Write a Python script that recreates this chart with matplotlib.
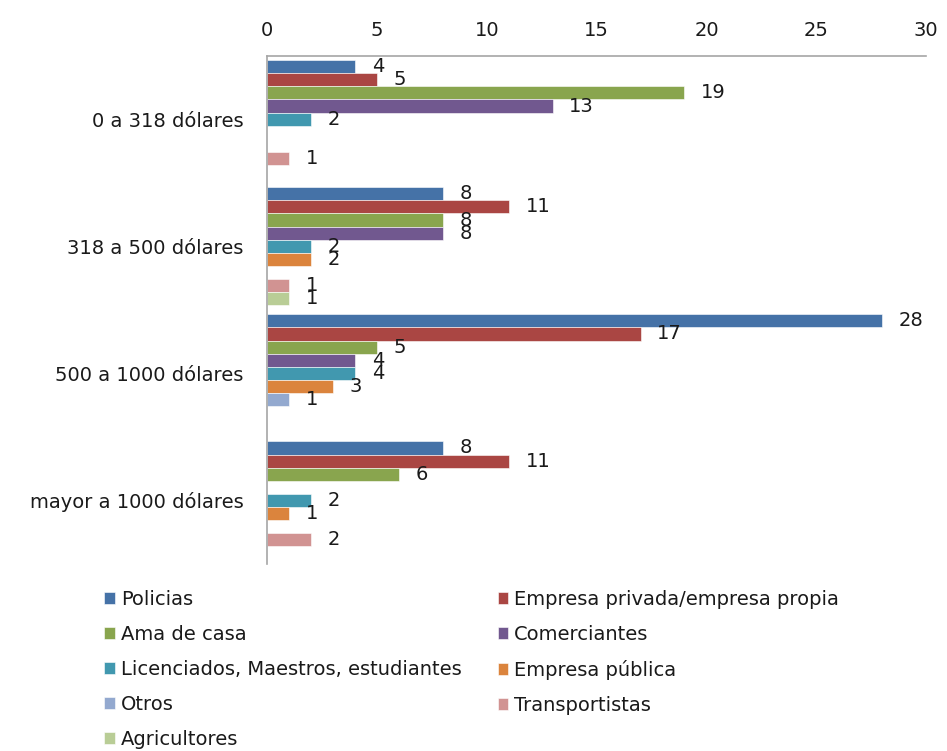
import numpy as np
import matplotlib.pyplot as plt

plt.rcParams['font.family'] = ['DejaVu Sans']

# ingreso mensual por grupo
categorias = ['0 a 318 dólares', '318 a 500 dólares', '500 a 1000 dólares', 'mayor a 1000 dólares']

series = ['Policias', 'Empresa privada/empresa propia', 'Ama de casa', 'Comerciantes',
          'Licenciados, Maestros, estudiantes', 'Empresa pública', 'Otros',
          'Transportistas', 'Agricultores']

policias = [4, 8, 28, 8]
empresa_privada = [5, 11, 17, 11]
ama_de_casa = [19, 8, 5, 6]
comerciantes = [13, 8, 4, None]
licenciados = [2, 2, 4, 2]
empresa_publica = [None, 2, 3, 1]
otros = [None, None, 1, None]
transportistas = [1, 1, None, 2]
agricultores = [None, 1, None, None]

valores = [policias, empresa_privada, ama_de_casa, comerciantes, licenciados,
           empresa_publica, otros, transportistas, agricultores]

colores = ['#4572A7', '#AA4643', '#89A54E', '#71588F', '#4198AF',
           '#DB843D', '#93A9CF', '#D19392', '#B9CD96']

fs = 14

fig = plt.figure(figsize=(9.47, 7.51), dpi=100)
ax = fig.add_axes([0.282, 0.249, 0.696, 0.677])

gap = 9 / 126
h = 13 / 126
handles = []
for j, (nombre, vals, c) in enumerate(zip(series, valores, colores)):
    ys = []
    ws = []
    for i, v in enumerate(vals):
        y = i - 0.5 + gap / 2 + (j + 0.5) * h
        if v is None:
            continue
        ys.append(y)
        ws.append(v)
        ax.annotate(str(v), (v, y), xytext=(12, 0), textcoords='offset points',
                    ha='left', va='center', fontsize=fs, color='#1a1a1a')
    b = ax.barh(ys, ws, height=h, color=c, edgecolor='white', linewidth=0.4, label=nombre)
    handles.append(b)

ax.set_xlim(0, 30)
ax.set_ylim(3.5, -0.5)
ax.set_xticks(np.arange(0, 31, 5))
ax.xaxis.tick_top()
ax.tick_params(axis='x', length=0, pad=11, labelsize=fs, labelcolor='#1a1a1a')
ax.tick_params(axis='y', length=0, pad=17, labelsize=fs, labelcolor='#1a1a1a')
ax.set_yticks(range(len(categorias)))
ax.set_yticklabels(categorias)
for s in ['right', 'bottom']:
    ax.spines[s].set_visible(False)
for s in ['top', 'left']:
    ax.spines[s].set_color('#A6A6A6')
    ax.spines[s].set_linewidth(1.2)

# leyenda en dos columnas, orden por filas
orden = [0, 2, 4, 6, 8, 1, 3, 5, 7]
leg = fig.legend([handles[k] for k in orden], [series[k] for k in orden],
                 ncol=2, loc='upper left', bbox_to_anchor=(0.102, 0.225),
                 frameon=False, fontsize=fs, handlelength=0.55, handleheight=0.55,
                 handletextpad=0.3, columnspacing=1.85, labelspacing=0.82,
                 borderaxespad=0)
for t in leg.get_texts():
    t.set_color('#1a1a1a')

fig.savefig('out.png', dpi=100)
